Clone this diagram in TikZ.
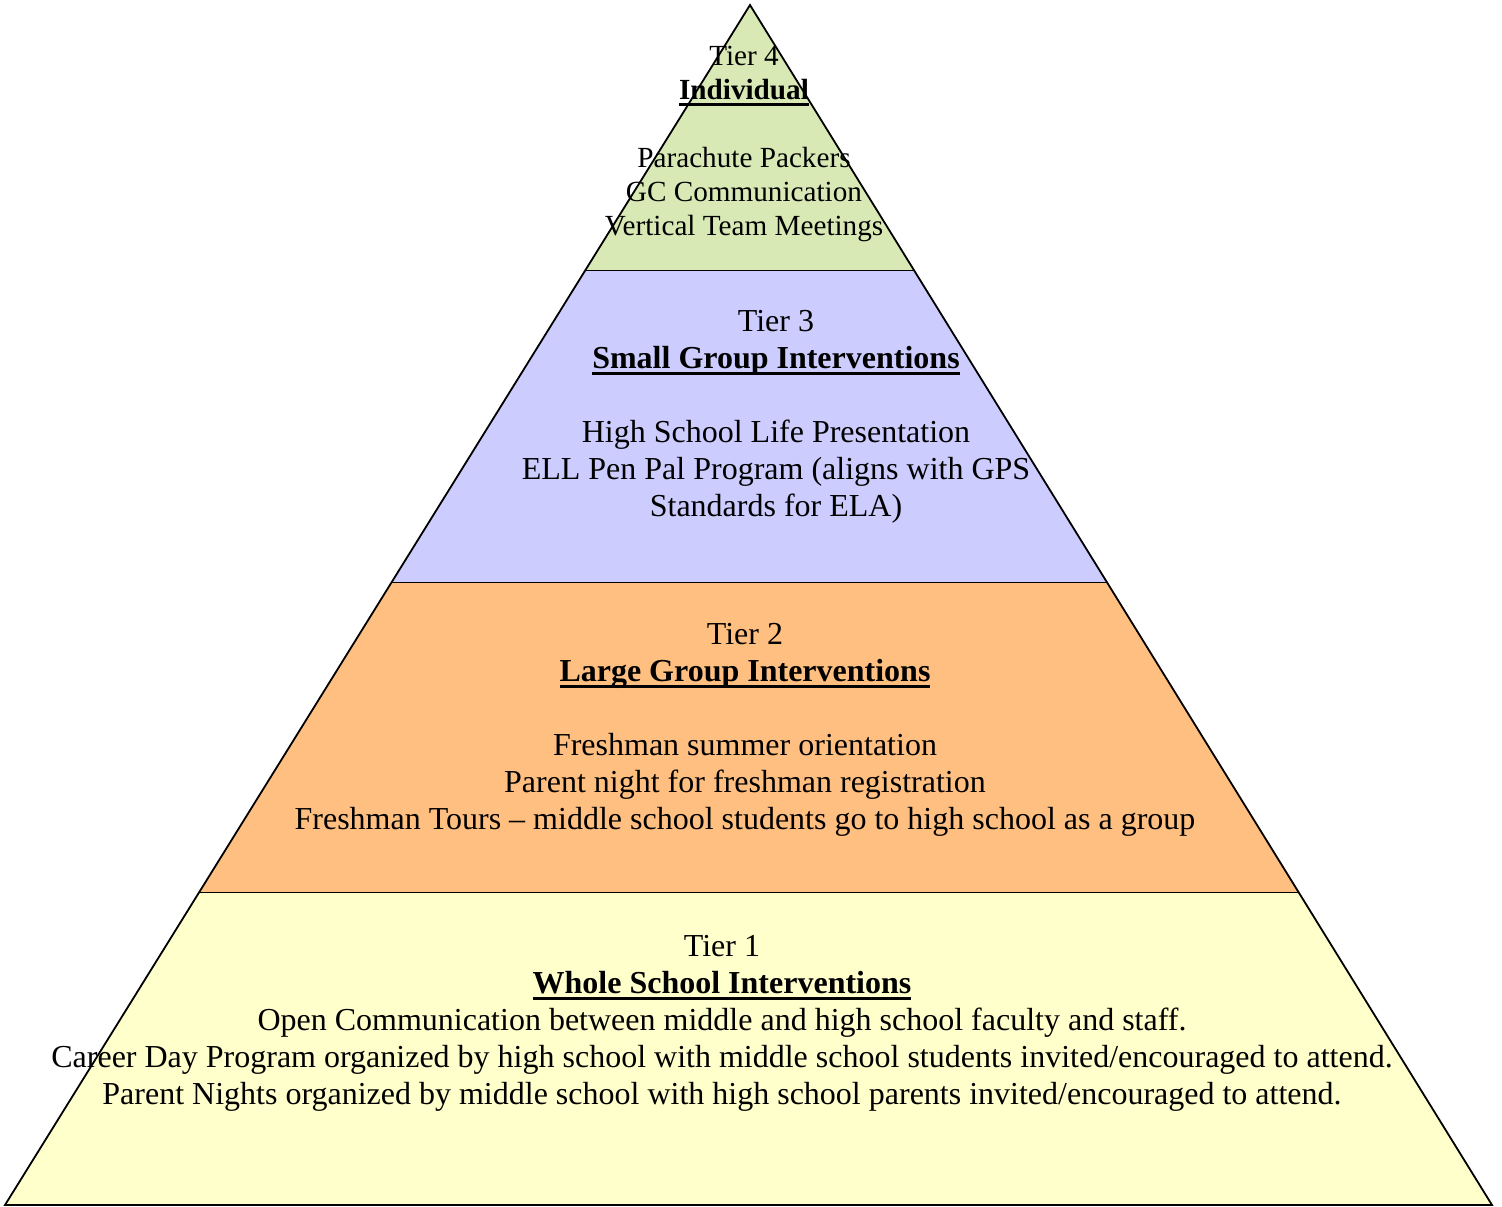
\documentclass[tikz,border=0pt]{standalone}
\usepackage{fontspec}
\setmainfont{Liberation Serif}

\definecolor{tierone}{RGB}{255,255,204}
\definecolor{tiertwo}{RGB}{255,191,128}
\definecolor{tierthree}{RGB}{204,204,255}
\definecolor{tierfour}{RGB}{216,233,181}

% bold title with a heavy underline
\newcommand{\tiertitle}[1]{\setbox0\hbox{\textbf{#1}}\rlap{\rule[-6.5pt]{\wd0}{2.4pt}}\box0}

\tikzset{
    tiertext/.style={align=center, inner sep=0pt, font=\fontsize{32}{37}\selectfont},
    toptext/.style={align=center, inner sep=0pt, font=\fontsize{29.2}{34}\selectfont}
}

\begin{document}
\begin{tikzpicture}[x=1pt, y=-1pt]
    \useasboundingbox (0,0) rectangle (1502,1207);

    % Pyramid corners
    \coordinate (apex) at (750,5);
    \coordinate (baseleft) at (5,1205);
    \coordinate (baseright) at (1492,1205);

    % Bands, from the top
    \foreach \ytop/\ybot/\col in {5/271/tierfour, 271/583/tierthree, 583/893/tiertwo, 893/1205/tierone} {
        \pgfmathsetmacro{\tl}{750 - 0.62083*(\ytop-5)}
        \pgfmathsetmacro{\tr}{750 + 0.61833*(\ytop-5)}
        \pgfmathsetmacro{\bl}{750 - 0.62083*(\ybot-5)}
        \pgfmathsetmacro{\br}{750 + 0.61833*(\ybot-5)}
        \fill[\col] (\tl,\ytop) -- (\tr,\ytop) -- (\br,\ybot) -- (\bl,\ybot) -- cycle;
        \draw[line width=1.8pt] (\bl,\ybot) -- (\br,\ybot);
    }

    % Outline
    \draw[line width=1.8pt] (apex) -- (baseleft) -- (baseright) -- cycle;

    % Tier 4
    \node[toptext] (tierfour) at (744,143.5) {Tier 4\\ \tiertitle{Individual}\\[34pt]
        Parachute Packers\\ GC Communication\\ Vertical Team Meetings};

    % Tier 3
    \node[tiertext] (tierthree) at (776,416.5) {Tier 3\\ \tiertitle{Small Group Interventions}\\[37pt]
        High School Life Presentation\\ ELL Pen Pal Program (aligns with GPS\\ Standards for ELA)};

    % Tier 2
    \node[tiertext] (tiertwo) at (745,729.5) {Tier 2\\ \tiertitle{Large Group Interventions}\\[37pt]
        Freshman summer orientation\\ Parent night for freshman registration\\
        Freshman Tours -- middle school students go to high school as a group};

    % Tier 1
    \node[tiertext] (tierone) at (722,1023) {Tier 1\\ \tiertitle{Whole School Interventions}\\
        Open Communication between middle and high school faculty and staff.\\
        Career Day Program organized by high school with middle school students invited/encouraged to attend.\\
        Parent Nights organized by middle school with high school parents invited/encouraged to attend.};
\end{tikzpicture}
\end{document}
